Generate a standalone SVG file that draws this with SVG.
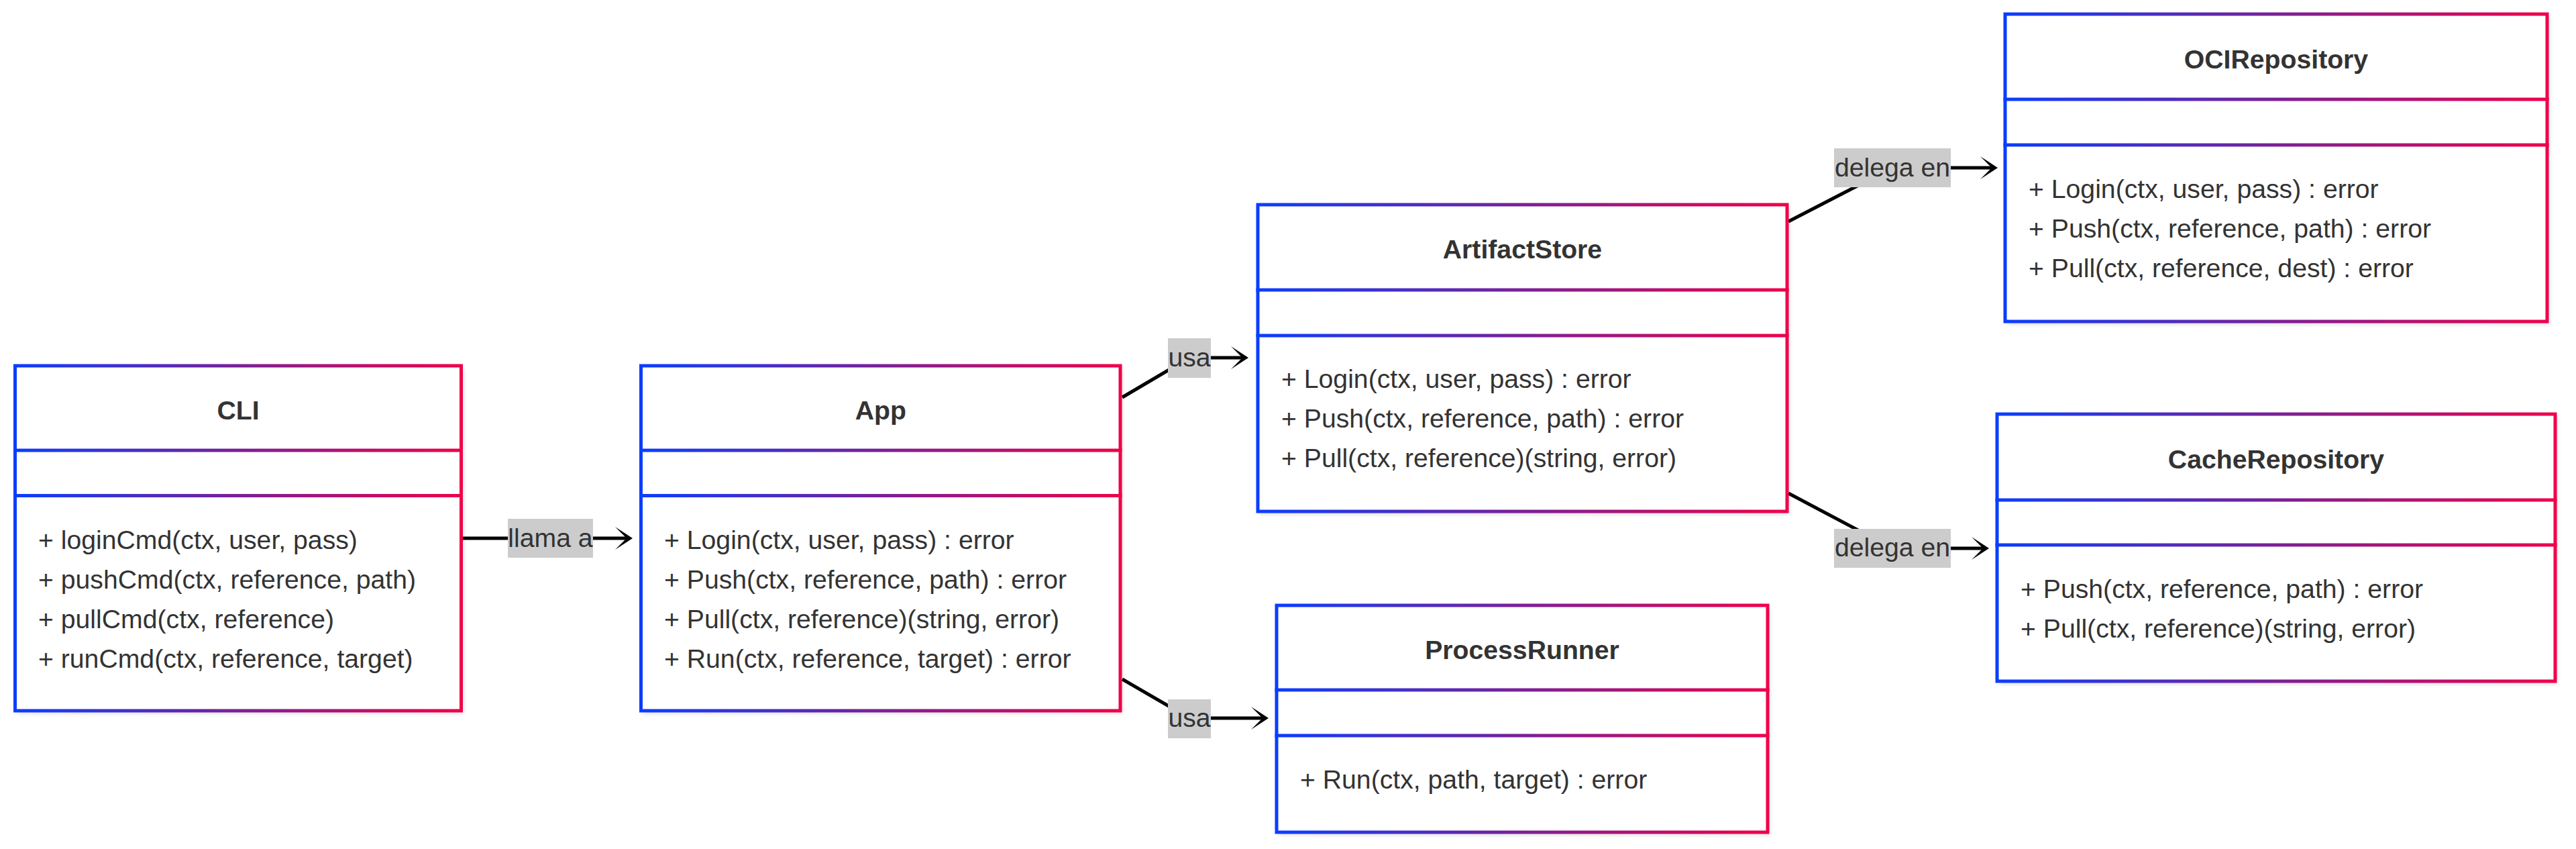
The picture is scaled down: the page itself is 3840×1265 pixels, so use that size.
<svg xmlns="http://www.w3.org/2000/svg" width="3840" height="1265" viewBox="0 0 3840 1265">
<defs>
<linearGradient id="grad" x1="0" y1="0" x2="1" y2="0">
<stop offset="0" stop-color="#0a3dff"/>
<stop offset="0.5" stop-color="#7a2096"/>
<stop offset="1" stop-color="#f0004a"/>
</linearGradient>
<filter id="shadow" x="-5%" y="-5%" width="110%" height="115%">
<feDropShadow dx="3" dy="4" stdDeviation="3" flood-color="#000" flood-opacity="0.15"/>
</filter>
<marker id="arr" markerUnits="userSpaceOnUse" viewBox="0 0 26 36" markerWidth="26" markerHeight="36" refX="20" refY="18" orient="auto">
<path d="M0,1 L26,18 L0,35 L17,18 Z" fill="#000"/>
</marker>
</defs>
<style>
.bg{fill:#fff;filter:url(#shadow)}
.box{fill:none;stroke:url(#grad);stroke-width:5}
.div{fill:url(#grad)}
.title{font-family:"Liberation Sans",Arial,sans-serif;font-size:39.2px;font-weight:bold;fill:#333;text-anchor:middle}
.m{font-family:"Liberation Sans",Arial,sans-serif;font-size:39.2px;fill:#333}
.edge{fill:none;stroke:#000;stroke-width:5;marker-end:url(#arr)}
.lbg{fill:#cccccc}
.lt{font-family:"Liberation Sans",Arial,sans-serif;font-size:39.2px;fill:#333;text-anchor:middle}
</style>
<rect width="3840" height="1265" fill="#fff"/>

<g id="connectors">
<path class="edge" d="M690,802 L937,802"/>
<path class="edge" d="M1673,592 L1773,533 L1855,533"/>
<path class="edge" d="M1673,1012 L1773,1070 L1885,1070"/>
<path class="edge" d="M2666,330 L2821,250 L2972,250"/>
<path class="edge" d="M2666,735 L2821,817 L2959,817"/>
<rect class="lbg" x="757" y="773" width="127" height="58"/>
<text class="lt" x="820.5" y="815">llama a</text>
<rect class="lbg" x="1741" y="504" width="64" height="59"/>
<text class="lt" x="1773" y="546">usa</text>
<rect class="lbg" x="1741" y="1042" width="64" height="58"/>
<text class="lt" x="1773" y="1083">usa</text>
<rect class="lbg" x="2734" y="221" width="174" height="58"/>
<text class="lt" x="2821" y="263">delega en</text>
<rect class="lbg" x="2734" y="788" width="174" height="58"/>
<text class="lt" x="2821" y="829">delega en</text>
</g>

<g id="node-CLI">
<rect class="bg" x="22.5" y="545" width="665" height="514"/>
<rect class="box" x="22.5" y="545" width="665" height="514"/>
<rect class="div" x="20" y="668.5" width="670" height="5"/>
<rect class="div" x="20" y="736" width="670" height="5"/>
<text class="title" x="355" y="625">CLI</text>
<text class="m" x="57" y="818">+ loginCmd(ctx, user, pass)</text>
<text class="m" x="57" y="877">+ pushCmd(ctx, reference, path)</text>
<text class="m" x="57" y="936">+ pullCmd(ctx, reference)</text>
<text class="m" x="57" y="995">+ runCmd(ctx, reference, target)</text>
</g>

<g id="node-App">
<rect class="bg" x="955.5" y="545" width="714.5" height="514"/>
<rect class="box" x="955.5" y="545" width="714.5" height="514"/>
<rect class="div" x="953" y="668.5" width="719.5" height="5"/>
<rect class="div" x="953" y="736" width="719.5" height="5"/>
<text class="title" x="1312.75" y="625">App</text>
<text class="m" x="990" y="818">+ Login(ctx, user, pass) : error</text>
<text class="m" x="990" y="877">+ Push(ctx, reference, path) : error</text>
<text class="m" x="990" y="936">+ Pull(ctx, reference)(string, error)</text>
<text class="m" x="990" y="995">+ Run(ctx, reference, target) : error</text>
</g>

<g id="node-ArtifactStore">
<rect class="bg" x="1875" y="305" width="789" height="457"/>
<rect class="box" x="1875" y="305" width="789" height="457"/>
<rect class="div" x="1872.5" y="429.5" width="794" height="5"/>
<rect class="div" x="1872.5" y="497.5" width="794" height="5"/>
<text class="title" x="2269.5" y="385">ArtifactStore</text>
<text class="m" x="1910" y="578">+ Login(ctx, user, pass) : error</text>
<text class="m" x="1910" y="637">+ Push(ctx, reference, path) : error</text>
<text class="m" x="1910" y="696">+ Pull(ctx, reference)(string, error)</text>
</g>

<g id="node-OCIRepository">
<rect class="bg" x="2989" y="21" width="808" height="458"/>
<rect class="box" x="2989" y="21" width="808" height="458"/>
<rect class="div" x="2986.5" y="145.5" width="813" height="5"/>
<rect class="div" x="2986.5" y="213.5" width="813" height="5"/>
<text class="title" x="3393" y="102">OCIRepository</text>
<text class="m" x="3024" y="295">+ Login(ctx, user, pass) : error</text>
<text class="m" x="3024" y="354">+ Push(ctx, reference, path) : error</text>
<text class="m" x="3024" y="413">+ Pull(ctx, reference, dest) : error</text>
</g>

<g id="node-CacheRepository">
<rect class="bg" x="2977" y="617" width="832" height="398"/>
<rect class="box" x="2977" y="617" width="832" height="398"/>
<rect class="div" x="2974.5" y="742.5" width="837" height="5"/>
<rect class="div" x="2974.5" y="809.5" width="837" height="5"/>
<text class="title" x="3393" y="698">CacheRepository</text>
<text class="m" x="3012" y="891">+ Push(ctx, reference, path) : error</text>
<text class="m" x="3012" y="950">+ Pull(ctx, reference)(string, error)</text>
</g>

<g id="node-ProcessRunner">
<rect class="bg" x="1903" y="902" width="732" height="338"/>
<rect class="box" x="1903" y="902" width="732" height="338"/>
<rect class="div" x="1900.5" y="1025.5" width="737" height="5"/>
<rect class="div" x="1900.5" y="1093.5" width="737" height="5"/>
<text class="title" x="2269" y="982">ProcessRunner</text>
<text class="m" x="1938" y="1175">+ Run(ctx, path, target) : error</text>
</g>
</svg>
